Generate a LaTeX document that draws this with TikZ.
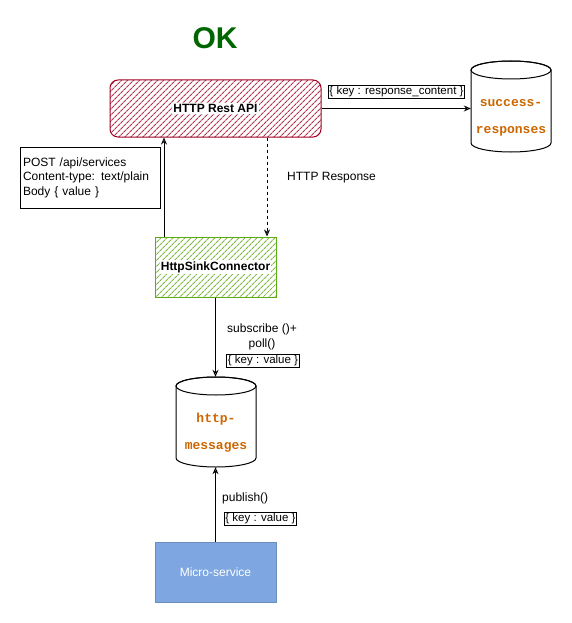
\documentclass[tikz,border=0pt]{standalone}
\usepackage{fontspec}
\setmainfont{Liberation Sans}
\newfontfamily\cylfont{Liberation Mono}
\usetikzlibrary{patterns.meta,arrows.meta}
\definecolor{okgreen}{HTML}{006600}
\definecolor{apired}{HTML}{A20025}
\definecolor{sinkgreen}{HTML}{60A917}
\definecolor{msfill}{HTML}{7EA6E0}
\definecolor{msline}{HTML}{6C8EBF}
\definecolor{cyltext}{HTML}{CC6600}
\tikzset{
  base/.style={font=\fontsize{12}{14.5}\selectfont},
  hatchred/.style={draw=apired, line width=1pt, rounded corners=8pt,
    pattern={Lines[angle=45,distance=4pt,line width=1.1pt]}, pattern color=apired!80},
  hatchgreen/.style={draw=sinkgreen, line width=1pt,
    pattern={Lines[angle=45,distance=4pt,line width=1.1pt]}, pattern color=sinkgreen!80},
  boxlbl/.style={base, font=\fontsize{12}{14.5}\selectfont\bfseries, fill=white, inner sep=1pt},
  keybox/.style={draw, line width=0.7pt, inner sep=1.2pt, font=\fontsize{11.5}{13}\selectfont},
  plain/.style={inner sep=0pt, font=\fontsize{12}{14.5}\selectfont},
  conn/.style={line width=0.9pt, -{Stealth[open,length=7pt,width=6pt]}},
  cylbody/.style={draw, line width=1pt, fill=white},
  cyltxt/.style={font=\cylfont\bfseries\fontsize{13}{27}\selectfont, text=cyltext, align=center},
  ghost/.style={draw=none, inner sep=0pt},
}
\begin{document}
\begin{tikzpicture}[x=1pt,y=-1pt]
\useasboundingbox (0,0) rectangle (571,623);
\fill[white] (0,0) rectangle (571,623);

% title
\node[font=\fontsize{30}{32}\selectfont\bfseries, text=okgreen] (ok) at (215,38) {OK};

% HTTP Rest API
\node[hatchred, minimum width=211pt, minimum height=57pt] (api) at (215.5,108.5) {};
\node[boxlbl] (apil) at (api.center) {HTTP Rest API};

% HttpSinkConnector
\node[hatchgreen, minimum width=121pt, minimum height=60pt] (sink) at (215.5,267) {};
\node[boxlbl] (sinkl) at (sink.center) {HttpSinkConnector};

% Micro-service
\node[draw=msline, fill=msfill, line width=1pt, minimum width=121pt, minimum height=60pt,
      text=white, font=\fontsize{12}{14.5}\selectfont] (ms) at (215.5,572) {Micro-service};

% note
\node[draw, line width=0.8pt, minimum width=140pt, minimum height=61pt, text width=134pt,
      align=left, inner sep=3pt, font=\fontsize{12}{14.5}\selectfont] (note) at (90,177.5)
  {POST /api/services\\Content-type: text/plain\\Body \{ value \}};

% cylinder success-responses
\draw[cylbody] (471,70) -- (471,143) arc[start angle=180,end angle=0,x radius=40,y radius=9]
  -- (551,70) arc[start angle=0,end angle=-180,x radius=40,y radius=9] -- cycle;
\draw[line width=1pt] (511,70) ellipse[x radius=40,y radius=9];
\node[ghost, minimum width=80pt, minimum height=91pt] (sr) at (511,106.5) {};
\node[cyltxt] (srl) at (511,118) {success-\\responses};

% cylinder http-messages
\draw[cylbody] (176,386) -- (176,458) arc[start angle=180,end angle=0,x radius=40,y radius=9]
  -- (256,386) arc[start angle=0,end angle=-180,x radius=40,y radius=9] -- cycle;
\draw[line width=1pt] (216,386) ellipse[x radius=40,y radius=9];
\node[ghost, minimum width=80pt, minimum height=90pt] (hm) at (216,422) {};
\node[cyltxt] (hml) at (216,433) {http-\\messages};

% connectors
\draw[conn] (api.east) -- (api.east -| sr.west);
\draw[conn] ([xshift=-51.5pt]sink.north) -- ([xshift=-51.5pt]api.south);
\draw[conn, dashed] ([xshift=51.5pt]api.south) -- ([xshift=51.5pt]sink.north);
\draw[conn] (sink.south) -- (sink.south |- hm.north);
\draw[conn] (ms.north) -- (ms.north |- hm.south);

% labels
\node[keybox, fill=white] (k1) at (396.5,92) {\{ key : response\_content \}};
\node[plain, anchor=west] (hr) at (287,178) {HTTP Response};
\node[plain, align=center] (sub) at (262,337) {subscribe ()+\\poll()};
\node[keybox] (k2) at (263,361) {\{ key : value \}};
\node[plain, anchor=west] (pub) at (222,498) {publish()};
\node[keybox] (k3) at (260.5,518.5) {\{ key : value \}};
\end{tikzpicture}
\end{document}
